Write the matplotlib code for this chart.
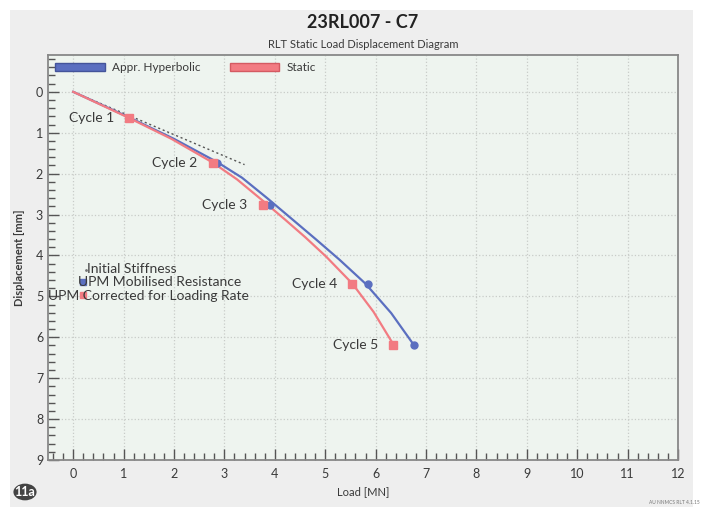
import matplotlib.pyplot as plt
from matplotlib.patches import Rectangle, Circle
from matplotlib.ticker import MultipleLocator

plt.rcParams['font.family'] = ['Lato', 'DejaVu Sans']

# curve points (load MN, displacement mm)
hyp_load = [0.0, 1.10, 2.00, 2.86, 3.35, 3.85, 4.35, 4.81, 5.28, 5.80, 6.31, 6.76]
hyp_disp = [0.0, 0.62, 1.15, 1.72, 2.10, 2.60, 3.12, 3.60, 4.10, 4.69, 5.41, 6.19]
static_load = [0.0, 1.11, 1.95, 2.77, 3.25, 3.76, 4.20, 4.60, 5.02, 5.54, 5.96, 6.36]
static_disp = [0.0, 0.64, 1.15, 1.73, 2.14, 2.66, 3.12, 3.55, 4.03, 4.69, 5.38, 6.19]

# cycle markers
cycle_labels = ['Cycle 1', 'Cycle 2', 'Cycle 3', 'Cycle 4', 'Cycle 5']
cyc_static_load = [1.11, 2.77, 3.76, 5.54, 6.35]
cyc_hyp_load = [1.11, 2.86, 3.90, 5.85, 6.77]
cyc_disp = [0.64, 1.73, 2.76, 4.69, 6.19]

# initial stiffness line
stiff_load = [0.0, 3.4]
stiff_disp = [0.0, 1.78]

# extra series labels in the lower left
extra_labels = ['Initial Stiffness', 'UPM Mobilised Resistance', 'UPM Corrected for Loading Rate']
extra_load = [0.26, 0.20, 0.20]
extra_disp = [4.35, 4.64, 4.96]

blue = '#5b6fc0'
red = '#f27b82'
txt = '#3a3a3a'

fig = plt.figure(figsize=(7.02, 5.07), dpi=100)
fig.patch.set_facecolor('white')
fig.add_artist(Rectangle((10 / 702, 0), 683 / 702, 497 / 507, transform=fig.transFigure,
                         facecolor='#eeeeee', edgecolor='none', zorder=-10))

ax = fig.add_axes([48 / 702, 47 / 507, 630 / 702, 405 / 507])
ax.set_facecolor('#eef4ef')
ax.set_xlim(-0.5, 12)
ax.set_ylim(9, -0.9)

ax.xaxis.set_major_locator(MultipleLocator(1))
ax.xaxis.set_minor_locator(MultipleLocator(0.2))
ax.yaxis.set_major_locator(MultipleLocator(1))
ax.yaxis.set_minor_locator(MultipleLocator(0.2))
ax.tick_params(which='both', direction='in', colors='#555555', labelcolor=txt, labelsize=9)
ax.tick_params(which='major', length=8, width=1)
ax.tick_params(which='minor', length=5, width=1)
ax.tick_params(axis='x', pad=6)
for s in ax.spines.values():
    s.set_color('#888888')
    s.set_linewidth(1.3)
ax.grid(True, which='major', color='#c8ccc8', linestyle=':', linewidth=0.9)

ax.plot(stiff_load, stiff_disp, color='#555555', linestyle=(0, (1.5, 2)), lw=1, zorder=3)
ax.plot(hyp_load, hyp_disp, color=blue, lw=1.6, zorder=4)
ax.plot(static_load, static_disp, color=red, lw=1.6, zorder=5)
ax.plot(cyc_hyp_load, cyc_disp, 'o', color=blue, ms=5, zorder=6)
ax.plot(cyc_static_load, cyc_disp, 's', color=red, ms=6, zorder=7)

for lab, x, y in zip(cycle_labels, cyc_static_load, cyc_disp):
    ax.annotate(lab, (x, y), xytext=(-11, 0), textcoords='offset points',
                ha='right', va='center', fontsize=10, color=txt, zorder=8)

ax.plot(extra_load[0], extra_disp[0], '.', color='#777777', ms=2, zorder=6)
ax.plot(extra_load[1], extra_disp[1], 's', color=blue, ms=4, zorder=6)
ax.plot(extra_load[2], extra_disp[2], 's', color=red, ms=4, zorder=6)
ax.text(extra_load[0] + 0.02, extra_disp[0] - 0.03, extra_labels[0], ha='left', va='center',
        fontsize=10, color=txt, zorder=8)
ax.text(extra_load[1] - 0.1, extra_disp[1], extra_labels[1], ha='left', va='center',
        fontsize=10, color=txt, zorder=8)
ax.text(-0.5, extra_disp[2] + 0.03, extra_labels[2], ha='left', va='center',
        fontsize=10, color=txt, zorder=8)

# legend
h1 = plt.Rectangle((0, 0), 1, 1, facecolor=blue, edgecolor='#44549a')
h2 = plt.Rectangle((0, 0), 1, 1, facecolor=red, edgecolor='#d45a62')
ax.legend([h1, h2], ['Appr. Hyperbolic', 'Static'], loc='upper left', ncol=2,
          frameon=False, fontsize=8.5, handlelength=4.2, handleheight=0.7,
          columnspacing=2.5, handletextpad=0.6, borderaxespad=0.2,
          labelcolor=txt)

ax.set_xlabel('Load [MN]', fontsize=8, color=txt, labelpad=4)
ax.set_ylabel('Displacement [mm]', fontsize=8, color=txt, fontweight='bold', labelpad=8)

fig.text(363 / 702, 1 - 22 / 507, '23RL007 - C7', ha='center', va='center',
         fontsize=13, fontweight='bold', color='#222222')
fig.text(363 / 702, 1 - 44 / 507, 'RLT Static Load Displacement Diagram', ha='center',
         va='center', fontsize=8, color=txt)

# panel badge and footer
fig.add_artist(Circle((25 / 702, 15 / 507), 0.0165, transform=fig.transFigure,
                      facecolor='#444444', edgecolor='none'))
fig.text(25 / 702, 15 / 507, '11a', ha='center', va='center', fontsize=9,
         fontweight='bold', color='white')
fig.text(700 / 702, 4 / 507, 'AU NNMCS RLT 4.1.15', ha='right', va='center',
         fontsize=3.5, color='#777777')

fig.savefig('out.png', dpi=100)
